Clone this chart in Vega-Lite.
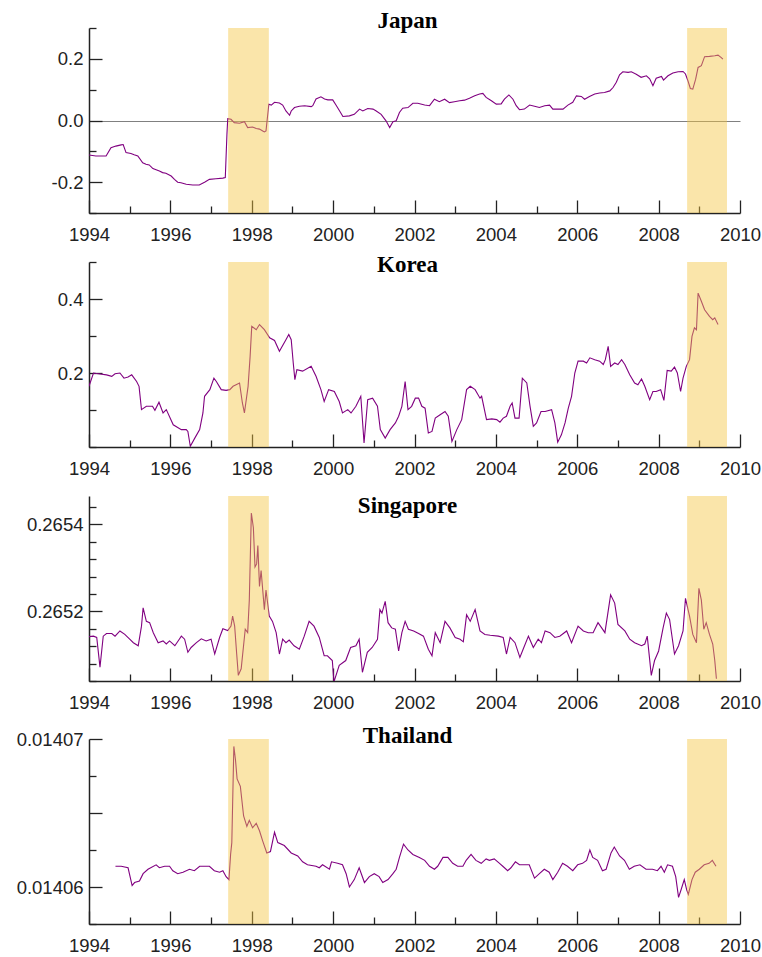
{
"$schema": "https://vega.github.io/schema/vega-lite/v6.json",
"padding": {"left": 16, "top": 10, "right": 5, "bottom": 0},
"autosize": {"type": "pad"},
"bounds": "flush",
"spacing": 0,
"config": {
  "view": {"stroke": null},
  "axis": {"domainColor": "#222", "domainWidth": 1.5, "tickColor": "#222", "tickWidth": 1.3, "labelFont": "Liberation Sans", "labelFontSize": 18.5, "labelColor": "#222", "grid": false, "labelFlush": false, "zindex": 1, "labelOverlap": false},
  "title": {"font": "Liberation Serif", "fontSize": 23, "fontWeight": "bold", "color": "#000", "frame": "group", "baseline": "alphabetic", "anchor": "middle", "dx": -7}
},
"datasets": {
  "bands": [{"s": 1997.42, "e": 1998.42}, {"s": 2008.7, "e": 2009.68}],
  "jp": [
{"t":1994.00,"v":-0.112},{"t":1994.17,"v":-0.115},{"t":1994.42,"v":-0.115},{"t":1994.54,"v":-0.088},{"t":1994.66,"v":-0.083},{"t":1994.79,"v":-0.079},{"t":1994.84,"v":-0.078},{"t":1994.91,"v":-0.104},{"t":1995.03,"v":-0.107},{"t":1995.11,"v":-0.111},{"t":1995.20,"v":-0.115},{"t":1995.32,"v":-0.137},{"t":1995.40,"v":-0.142},{"t":1995.48,"v":-0.144},{"t":1995.57,"v":-0.156},{"t":1995.65,"v":-0.160},{"t":1995.73,"v":-0.164},{"t":1995.81,"v":-0.169},{"t":1995.89,"v":-0.171},{"t":1996.02,"v":-0.180},{"t":1996.10,"v":-0.191},{"t":1996.18,"v":-0.200},{"t":1996.26,"v":-0.202},{"t":1996.39,"v":-0.207},{"t":1996.55,"v":-0.209},{"t":1996.71,"v":-0.209},{"t":1996.84,"v":-0.200},{"t":1996.96,"v":-0.191},{"t":1997.12,"v":-0.189},{"t":1997.29,"v":-0.187},{"t":1997.35,"v":-0.185},{"t":1997.39,"v":-0.045},{"t":1997.41,"v":0.006},{"t":1997.49,"v":0.004},{"t":1997.57,"v":-0.007},{"t":1997.70,"v":-0.009},{"t":1997.82,"v":-0.004},{"t":1997.90,"v":-0.023},{"t":1998.02,"v":-0.021},{"t":1998.11,"v":-0.026},{"t":1998.19,"v":-0.028},{"t":1998.27,"v":-0.034},{"t":1998.31,"v":-0.037},{"t":1998.35,"v":-0.034},{"t":1998.42,"v":0.053},{"t":1998.48,"v":0.050},{"t":1998.56,"v":0.059},{"t":1998.68,"v":0.057},{"t":1998.76,"v":0.050},{"t":1998.84,"v":0.031},{"t":1998.93,"v":0.017},{"t":1998.97,"v":0.031},{"t":1999.05,"v":0.042},{"t":1999.17,"v":0.046},{"t":1999.30,"v":0.048},{"t":1999.46,"v":0.045},{"t":1999.50,"v":0.048},{"t":1999.58,"v":0.070},{"t":1999.70,"v":0.077},{"t":1999.79,"v":0.070},{"t":1999.87,"v":0.067},{"t":1999.99,"v":0.067},{"t":2000.07,"v":0.050},{"t":2000.16,"v":0.031},{"t":2000.24,"v":0.013},{"t":2000.40,"v":0.015},{"t":2000.52,"v":0.020},{"t":2000.65,"v":0.037},{"t":2000.73,"v":0.031},{"t":2000.85,"v":0.039},{"t":2000.98,"v":0.037},{"t":2001.06,"v":0.031},{"t":2001.18,"v":0.020},{"t":2001.30,"v":-0.001},{"t":2001.39,"v":-0.023},{"t":2001.47,"v":-0.004},{"t":2001.55,"v":-0.001},{"t":2001.63,"v":0.026},{"t":2001.71,"v":0.040},{"t":2001.84,"v":0.042},{"t":2001.96,"v":0.056},{"t":2002.08,"v":0.056},{"t":2002.25,"v":0.050},{"t":2002.37,"v":0.048},{"t":2002.49,"v":0.069},{"t":2002.61,"v":0.061},{"t":2002.74,"v":0.069},{"t":2002.86,"v":0.058},{"t":2002.98,"v":0.061},{"t":2003.11,"v":0.064},{"t":2003.23,"v":0.066},{"t":2003.35,"v":0.072},{"t":2003.48,"v":0.080},{"t":2003.60,"v":0.086},{"t":2003.68,"v":0.088},{"t":2003.76,"v":0.075},{"t":2003.89,"v":0.064},{"t":2004.01,"v":0.053},{"t":2004.13,"v":0.054},{"t":2004.21,"v":0.069},{"t":2004.32,"v":0.083},{"t":2004.42,"v":0.069},{"t":2004.50,"v":0.048},{"t":2004.58,"v":0.035},{"t":2004.70,"v":0.037},{"t":2004.83,"v":0.050},{"t":2004.95,"v":0.046},{"t":2005.07,"v":0.042},{"t":2005.20,"v":0.048},{"t":2005.32,"v":0.050},{"t":2005.40,"v":0.037},{"t":2005.52,"v":0.037},{"t":2005.65,"v":0.037},{"t":2005.77,"v":0.050},{"t":2005.89,"v":0.059},{"t":2005.98,"v":0.080},{"t":2006.10,"v":0.078},{"t":2006.18,"v":0.069},{"t":2006.30,"v":0.078},{"t":2006.43,"v":0.086},{"t":2006.55,"v":0.089},{"t":2006.67,"v":0.091},{"t":2006.80,"v":0.096},{"t":2006.88,"v":0.107},{"t":2006.96,"v":0.124},{"t":2007.04,"v":0.148},{"t":2007.12,"v":0.158},{"t":2007.25,"v":0.156},{"t":2007.33,"v":0.158},{"t":2007.45,"v":0.150},{"t":2007.57,"v":0.140},{"t":2007.70,"v":0.145},{"t":2007.78,"v":0.135},{"t":2007.86,"v":0.113},{"t":2007.94,"v":0.137},{"t":2008.07,"v":0.143},{"t":2008.12,"v":0.131},{"t":2008.23,"v":0.145},{"t":2008.35,"v":0.154},{"t":2008.48,"v":0.158},{"t":2008.60,"v":0.159},{"t":2008.66,"v":0.151},{"t":2008.72,"v":0.129},{"t":2008.78,"v":0.104},{"t":2008.84,"v":0.102},{"t":2008.91,"v":0.134},{"t":2008.97,"v":0.172},{"t":2009.05,"v":0.178},{"t":2009.13,"v":0.207},{"t":2009.25,"v":0.208},{"t":2009.38,"v":0.210},{"t":2009.46,"v":0.212},{"t":2009.54,"v":0.204},{"t":2009.58,"v":0.199}
  ],
  "kr": [
{"t":1994.00,"v":0.164},{"t":1994.11,"v":0.200},{"t":1994.23,"v":0.198},{"t":1994.43,"v":0.195},{"t":1994.56,"v":0.191},{"t":1994.64,"v":0.198},{"t":1994.76,"v":0.200},{"t":1994.86,"v":0.186},{"t":1994.96,"v":0.189},{"t":1995.05,"v":0.195},{"t":1995.17,"v":0.177},{"t":1995.23,"v":0.164},{"t":1995.29,"v":0.101},{"t":1995.41,"v":0.110},{"t":1995.56,"v":0.110},{"t":1995.62,"v":0.099},{"t":1995.72,"v":0.121},{"t":1995.82,"v":0.092},{"t":1995.90,"v":0.101},{"t":1996.07,"v":0.060},{"t":1996.27,"v":0.047},{"t":1996.39,"v":0.047},{"t":1996.43,"v":0.042},{"t":1996.49,"v":0.002},{"t":1996.60,"v":0.024},{"t":1996.72,"v":0.047},{"t":1996.80,"v":0.092},{"t":1996.84,"v":0.137},{"t":1996.97,"v":0.155},{"t":1997.07,"v":0.186},{"t":1997.13,"v":0.177},{"t":1997.25,"v":0.155},{"t":1997.37,"v":0.153},{"t":1997.46,"v":0.155},{"t":1997.54,"v":0.164},{"t":1997.70,"v":0.173},{"t":1997.77,"v":0.119},{"t":1997.82,"v":0.092},{"t":1997.91,"v":0.164},{"t":1997.96,"v":0.245},{"t":1998.00,"v":0.326},{"t":1998.11,"v":0.317},{"t":1998.19,"v":0.331},{"t":1998.31,"v":0.317},{"t":1998.44,"v":0.295},{"t":1998.56,"v":0.288},{"t":1998.68,"v":0.259},{"t":1998.84,"v":0.290},{"t":1998.91,"v":0.304},{"t":1998.97,"v":0.290},{"t":1999.02,"v":0.227},{"t":1999.06,"v":0.182},{"t":1999.11,"v":0.209},{"t":1999.25,"v":0.205},{"t":1999.46,"v":0.218},{"t":1999.58,"v":0.191},{"t":1999.70,"v":0.155},{"t":1999.78,"v":0.123},{"t":1999.89,"v":0.155},{"t":2000.03,"v":0.150},{"t":2000.15,"v":0.123},{"t":2000.23,"v":0.092},{"t":2000.36,"v":0.101},{"t":2000.44,"v":0.092},{"t":2000.56,"v":0.110},{"t":2000.68,"v":0.137},{"t":2000.76,"v":0.011},{"t":2000.85,"v":0.128},{"t":2000.97,"v":0.132},{"t":2001.09,"v":0.110},{"t":2001.16,"v":0.047},{"t":2001.28,"v":0.024},{"t":2001.40,"v":0.047},{"t":2001.53,"v":0.065},{"t":2001.61,"v":0.083},{"t":2001.69,"v":0.110},{"t":2001.77,"v":0.177},{"t":2001.84,"v":0.101},{"t":2001.93,"v":0.110},{"t":2002.02,"v":0.132},{"t":2002.10,"v":0.132},{"t":2002.18,"v":0.110},{"t":2002.26,"v":0.105},{"t":2002.34,"v":0.038},{"t":2002.43,"v":0.042},{"t":2002.51,"v":0.078},{"t":2002.63,"v":0.087},{"t":2002.75,"v":0.096},{"t":2002.83,"v":0.083},{"t":2002.92,"v":0.015},{"t":2003.04,"v":0.047},{"t":2003.16,"v":0.074},{"t":2003.28,"v":0.155},{"t":2003.37,"v":0.164},{"t":2003.49,"v":0.155},{"t":2003.61,"v":0.132},{"t":2003.65,"v":0.137},{"t":2003.77,"v":0.074},{"t":2003.90,"v":0.076},{"t":2004.02,"v":0.074},{"t":2004.10,"v":0.067},{"t":2004.18,"v":0.078},{"t":2004.26,"v":0.083},{"t":2004.35,"v":0.110},{"t":2004.40,"v":0.119},{"t":2004.47,"v":0.078},{"t":2004.57,"v":0.078},{"t":2004.65,"v":0.186},{"t":2004.76,"v":0.173},{"t":2004.84,"v":0.110},{"t":2004.92,"v":0.056},{"t":2005.00,"v":0.065},{"t":2005.11,"v":0.096},{"t":2005.21,"v":0.096},{"t":2005.37,"v":0.101},{"t":2005.45,"v":0.065},{"t":2005.52,"v":0.013},{"t":2005.61,"v":0.033},{"t":2005.70,"v":0.065},{"t":2005.78,"v":0.105},{"t":2005.86,"v":0.137},{"t":2005.94,"v":0.200},{"t":2006.02,"v":0.232},{"t":2006.15,"v":0.232},{"t":2006.23,"v":0.227},{"t":2006.31,"v":0.241},{"t":2006.43,"v":0.236},{"t":2006.55,"v":0.232},{"t":2006.64,"v":0.223},{"t":2006.69,"v":0.236},{"t":2006.76,"v":0.272},{"t":2006.82,"v":0.218},{"t":2006.92,"v":0.227},{"t":2007.00,"v":0.223},{"t":2007.09,"v":0.236},{"t":2007.17,"v":0.223},{"t":2007.29,"v":0.195},{"t":2007.41,"v":0.173},{"t":2007.49,"v":0.168},{"t":2007.58,"v":0.184},{"t":2007.66,"v":0.164},{"t":2007.78,"v":0.128},{"t":2007.86,"v":0.150},{"t":2007.94,"v":0.150},{"t":2008.05,"v":0.155},{"t":2008.13,"v":0.126},{"t":2008.21,"v":0.207},{"t":2008.31,"v":0.205},{"t":2008.39,"v":0.216},{"t":2008.46,"v":0.200},{"t":2008.54,"v":0.150},{"t":2008.60,"v":0.186},{"t":2008.68,"v":0.218},{"t":2008.76,"v":0.236},{"t":2008.82,"v":0.299},{"t":2008.88,"v":0.322},{"t":2008.93,"v":0.317},{"t":2008.97,"v":0.416},{"t":2009.05,"v":0.394},{"t":2009.13,"v":0.371},{"t":2009.25,"v":0.353},{"t":2009.33,"v":0.344},{"t":2009.38,"v":0.349},{"t":2009.46,"v":0.331}
  ],
  "sg": [
{"t":1994.00,"v":0.265142},{"t":1994.11,"v":0.265143},{"t":1994.19,"v":0.265140},{"t":1994.27,"v":0.265072},{"t":1994.35,"v":0.265143},{"t":1994.43,"v":0.265149},{"t":1994.56,"v":0.265149},{"t":1994.64,"v":0.265143},{"t":1994.76,"v":0.265155},{"t":1994.88,"v":0.265147},{"t":1995.00,"v":0.265136},{"t":1995.09,"v":0.265128},{"t":1995.21,"v":0.265121},{"t":1995.29,"v":0.265166},{"t":1995.33,"v":0.265208},{"t":1995.41,"v":0.265177},{"t":1995.49,"v":0.265174},{"t":1995.58,"v":0.265151},{"t":1995.70,"v":0.265128},{"t":1995.82,"v":0.265132},{"t":1995.90,"v":0.265125},{"t":1995.98,"v":0.265132},{"t":1996.11,"v":0.265121},{"t":1996.19,"v":0.265132},{"t":1996.27,"v":0.265143},{"t":1996.35,"v":0.265136},{"t":1996.43,"v":0.265106},{"t":1996.51,"v":0.265117},{"t":1996.64,"v":0.265128},{"t":1996.76,"v":0.265137},{"t":1996.88,"v":0.265132},{"t":1997.00,"v":0.265136},{"t":1997.09,"v":0.265102},{"t":1997.21,"v":0.265140},{"t":1997.29,"v":0.265160},{"t":1997.41,"v":0.265156},{"t":1997.49,"v":0.265166},{"t":1997.53,"v":0.265189},{"t":1997.58,"v":0.265166},{"t":1997.63,"v":0.265102},{"t":1997.67,"v":0.265053},{"t":1997.74,"v":0.265068},{"t":1997.84,"v":0.265159},{"t":1997.90,"v":0.265151},{"t":1997.94,"v":0.265226},{"t":1997.99,"v":0.265426},{"t":1998.04,"v":0.265392},{"t":1998.08,"v":0.265302},{"t":1998.12,"v":0.265309},{"t":1998.15,"v":0.265351},{"t":1998.19,"v":0.265257},{"t":1998.23,"v":0.265294},{"t":1998.31,"v":0.265204},{"t":1998.35,"v":0.265249},{"t":1998.43,"v":0.265189},{"t":1998.51,"v":0.265177},{"t":1998.60,"v":0.265151},{"t":1998.68,"v":0.265102},{"t":1998.76,"v":0.265136},{"t":1998.84,"v":0.265128},{"t":1998.92,"v":0.265134},{"t":1999.04,"v":0.265121},{"t":1999.17,"v":0.265113},{"t":1999.29,"v":0.265143},{"t":1999.41,"v":0.265177},{"t":1999.53,"v":0.265166},{"t":1999.66,"v":0.265140},{"t":1999.78,"v":0.265098},{"t":1999.86,"v":0.265098},{"t":1999.98,"v":0.265087},{"t":2000.02,"v":0.265038},{"t":2000.15,"v":0.265076},{"t":2000.31,"v":0.265087},{"t":2000.43,"v":0.265117},{"t":2000.56,"v":0.265121},{"t":2000.64,"v":0.265136},{"t":2000.72,"v":0.265060},{"t":2000.84,"v":0.265106},{"t":2000.96,"v":0.265117},{"t":2001.09,"v":0.265136},{"t":2001.15,"v":0.265204},{"t":2001.20,"v":0.265196},{"t":2001.28,"v":0.265223},{"t":2001.35,"v":0.265174},{"t":2001.44,"v":0.265162},{"t":2001.53,"v":0.265159},{"t":2001.61,"v":0.265109},{"t":2001.69,"v":0.265151},{"t":2001.77,"v":0.265177},{"t":2001.85,"v":0.265159},{"t":2001.98,"v":0.265155},{"t":2002.10,"v":0.265149},{"t":2002.22,"v":0.265143},{"t":2002.34,"v":0.265113},{"t":2002.43,"v":0.265098},{"t":2002.51,"v":0.265151},{"t":2002.63,"v":0.265128},{"t":2002.75,"v":0.265177},{"t":2002.87,"v":0.265162},{"t":2003.00,"v":0.265140},{"t":2003.12,"v":0.265136},{"t":2003.20,"v":0.265130},{"t":2003.28,"v":0.265192},{"t":2003.37,"v":0.265177},{"t":2003.49,"v":0.265204},{"t":2003.61,"v":0.265155},{"t":2003.73,"v":0.265147},{"t":2003.86,"v":0.265145},{"t":2004.06,"v":0.265143},{"t":2004.18,"v":0.265140},{"t":2004.26,"v":0.265102},{"t":2004.35,"v":0.265140},{"t":2004.47,"v":0.265128},{"t":2004.59,"v":0.265094},{"t":2004.67,"v":0.265113},{"t":2004.80,"v":0.265143},{"t":2004.92,"v":0.265117},{"t":2005.04,"v":0.265136},{"t":2005.12,"v":0.265128},{"t":2005.21,"v":0.265155},{"t":2005.33,"v":0.265151},{"t":2005.45,"v":0.265140},{"t":2005.57,"v":0.265143},{"t":2005.74,"v":0.265155},{"t":2005.86,"v":0.265128},{"t":2006.02,"v":0.265166},{"t":2006.15,"v":0.265155},{"t":2006.27,"v":0.265151},{"t":2006.39,"v":0.265151},{"t":2006.51,"v":0.265174},{"t":2006.60,"v":0.265162},{"t":2006.68,"v":0.265151},{"t":2006.82,"v":0.265238},{"t":2006.92,"v":0.265219},{"t":2007.00,"v":0.265170},{"t":2007.17,"v":0.265155},{"t":2007.29,"v":0.265136},{"t":2007.41,"v":0.265128},{"t":2007.58,"v":0.265121},{"t":2007.66,"v":0.265125},{"t":2007.72,"v":0.265143},{"t":2007.82,"v":0.265053},{"t":2007.90,"v":0.265087},{"t":2008.00,"v":0.265109},{"t":2008.11,"v":0.265162},{"t":2008.19,"v":0.265196},{"t":2008.27,"v":0.265181},{"t":2008.39,"v":0.265102},{"t":2008.49,"v":0.265121},{"t":2008.60,"v":0.265155},{"t":2008.66,"v":0.265230},{"t":2008.76,"v":0.265189},{"t":2008.84,"v":0.265147},{"t":2008.93,"v":0.265128},{"t":2008.99,"v":0.265253},{"t":2009.05,"v":0.265226},{"t":2009.11,"v":0.265159},{"t":2009.17,"v":0.265174},{"t":2009.25,"v":0.265147},{"t":2009.33,"v":0.265125},{"t":2009.38,"v":0.265087},{"t":2009.42,"v":0.265045}
  ],
  "th": [
{"t":1994.65,"v":0.0140614},{"t":1994.79,"v":0.0140614},{"t":1994.96,"v":0.0140613},{"t":1995.06,"v":0.0140601},{"t":1995.12,"v":0.0140603},{"t":1995.24,"v":0.0140604},{"t":1995.33,"v":0.0140609},{"t":1995.45,"v":0.0140612},{"t":1995.65,"v":0.0140615},{"t":1995.73,"v":0.0140613},{"t":1995.86,"v":0.0140614},{"t":1995.98,"v":0.0140614},{"t":1996.06,"v":0.0140611},{"t":1996.18,"v":0.0140609},{"t":1996.31,"v":0.0140610},{"t":1996.47,"v":0.0140612},{"t":1996.59,"v":0.0140611},{"t":1996.72,"v":0.0140614},{"t":1996.84,"v":0.0140614},{"t":1996.96,"v":0.0140614},{"t":1997.08,"v":0.0140611},{"t":1997.21,"v":0.0140610},{"t":1997.29,"v":0.0140611},{"t":1997.37,"v":0.0140607},{"t":1997.44,"v":0.0140605},{"t":1997.48,"v":0.0140622},{"t":1997.51,"v":0.0140630},{"t":1997.56,"v":0.0140695},{"t":1997.60,"v":0.0140686},{"t":1997.64,"v":0.0140673},{"t":1997.72,"v":0.0140668},{"t":1997.80,"v":0.0140648},{"t":1997.88,"v":0.0140641},{"t":1997.94,"v":0.0140645},{"t":1998.02,"v":0.0140640},{"t":1998.11,"v":0.0140643},{"t":1998.19,"v":0.0140638},{"t":1998.27,"v":0.0140631},{"t":1998.37,"v":0.0140623},{"t":1998.46,"v":0.0140624},{"t":1998.56,"v":0.0140637},{"t":1998.64,"v":0.0140630},{"t":1998.80,"v":0.0140628},{"t":1998.97,"v":0.0140623},{"t":1999.13,"v":0.0140621},{"t":1999.25,"v":0.0140617},{"t":1999.37,"v":0.0140615},{"t":1999.58,"v":0.0140614},{"t":1999.66,"v":0.0140613},{"t":1999.74,"v":0.0140615},{"t":1999.91,"v":0.0140612},{"t":1999.96,"v":0.0140617},{"t":2000.11,"v":0.0140616},{"t":2000.23,"v":0.0140615},{"t":2000.32,"v":0.0140609},{"t":2000.40,"v":0.0140600},{"t":2000.52,"v":0.0140605},{"t":2000.64,"v":0.0140613},{"t":2000.77,"v":0.0140603},{"t":2000.89,"v":0.0140607},{"t":2001.01,"v":0.0140609},{"t":2001.13,"v":0.0140607},{"t":2001.22,"v":0.0140603},{"t":2001.35,"v":0.0140605},{"t":2001.47,"v":0.0140609},{"t":2001.55,"v":0.0140612},{"t":2001.63,"v":0.0140620},{"t":2001.73,"v":0.0140629},{"t":2001.84,"v":0.0140625},{"t":2001.96,"v":0.0140622},{"t":2002.12,"v":0.0140620},{"t":2002.25,"v":0.0140618},{"t":2002.37,"v":0.0140614},{"t":2002.49,"v":0.0140612},{"t":2002.57,"v":0.0140614},{"t":2002.70,"v":0.0140620},{"t":2002.82,"v":0.0140620},{"t":2002.94,"v":0.0140616},{"t":2003.06,"v":0.0140614},{"t":2003.19,"v":0.0140614},{"t":2003.27,"v":0.0140618},{"t":2003.39,"v":0.0140622},{"t":2003.51,"v":0.0140618},{"t":2003.64,"v":0.0140616},{"t":2003.76,"v":0.0140619},{"t":2003.84,"v":0.0140618},{"t":2003.96,"v":0.0140619},{"t":2004.09,"v":0.0140616},{"t":2004.17,"v":0.0140614},{"t":2004.29,"v":0.0140611},{"t":2004.37,"v":0.0140613},{"t":2004.48,"v":0.0140617},{"t":2004.58,"v":0.0140615},{"t":2004.70,"v":0.0140615},{"t":2004.82,"v":0.0140615},{"t":2004.95,"v":0.0140606},{"t":2005.07,"v":0.0140609},{"t":2005.19,"v":0.0140612},{"t":2005.31,"v":0.0140610},{"t":2005.40,"v":0.0140605},{"t":2005.52,"v":0.0140610},{"t":2005.64,"v":0.0140616},{"t":2005.76,"v":0.0140614},{"t":2005.89,"v":0.0140611},{"t":2006.01,"v":0.0140615},{"t":2006.13,"v":0.0140616},{"t":2006.23,"v":0.0140618},{"t":2006.31,"v":0.0140625},{"t":2006.38,"v":0.0140620},{"t":2006.50,"v":0.0140618},{"t":2006.62,"v":0.0140611},{"t":2006.71,"v":0.0140612},{"t":2006.83,"v":0.0140623},{"t":2006.91,"v":0.0140627},{"t":2007.04,"v":0.0140621},{"t":2007.16,"v":0.0140618},{"t":2007.28,"v":0.0140612},{"t":2007.40,"v":0.0140614},{"t":2007.54,"v":0.0140615},{"t":2007.69,"v":0.0140612},{"t":2007.85,"v":0.0140612},{"t":2007.97,"v":0.0140611},{"t":2008.06,"v":0.0140614},{"t":2008.14,"v":0.0140610},{"t":2008.22,"v":0.0140615},{"t":2008.34,"v":0.0140614},{"t":2008.42,"v":0.0140607},{"t":2008.49,"v":0.0140593},{"t":2008.55,"v":0.0140598},{"t":2008.63,"v":0.0140605},{"t":2008.69,"v":0.0140598},{"t":2008.73,"v":0.0140595},{"t":2008.82,"v":0.0140605},{"t":2008.90,"v":0.0140610},{"t":2009.00,"v":0.0140612},{"t":2009.12,"v":0.0140615},{"t":2009.24,"v":0.0140616},{"t":2009.32,"v":0.0140618},{"t":2009.41,"v":0.0140614}
  ]
},
"vconcat": [
  {
    "width": 651, "height": 185,
    "title": {"text": "Japan", "offset": -14},
    "layer": [
      {"data": {"name": "jp"}, "mark": {"type": "line", "color": "#800080", "strokeWidth": 1.1, "clip": true},
       "encoding": {
         "x": {"field": "t", "type": "quantitative", "scale": {"domain": [1994, 2010], "nice": false, "zero": false},
               "axis": {"title": null, "values": [1994,1995,1996,1997,1998,1999,2000,2001,2002,2003,2004,2005,2006,2007,2008,2009,2010], "format": "d", "labelExpr": "datum.value % 2 == 0 ? datum.label : ''", "tickSize": {"condition": {"test": "datum.value % 2 == 0", "value": -13}, "value": -7}, "labelPadding": 25}},
         "y": {"field": "v", "type": "quantitative", "scale": {"domain": [-0.3, 0.3], "nice": false, "zero": false},
               "axis": {"title": null, "values": [-0.3,-0.2,-0.1,0,0.1,0.2,0.3], "labelExpr": "datum.value == 0.2 ? '0.2' : datum.value == 0 ? '0.0' : datum.value == -0.2 ? '-0.2' : ''", "tickSize": {"condition": {"test": "datum.value == 0.2 || datum.value == 0 || datum.value == -0.2", "value": -13}, "value": -7}, "labelPadding": 19, "grid": true, "gridColor": "#808080", "gridWidth": 1, "gridOpacity": {"condition": {"test": "datum.value == 0", "value": 1}, "value": 0}}}
       }},
      {"data": {"name": "bands"}, "mark": {"type": "rect", "color": "#F4C542", "opacity": 0.45},
       "encoding": {"x": {"field": "s", "type": "quantitative"}, "x2": {"field": "e"}}}
    ]
  },
  {"width": 651, "height": 49, "data": {"values": []}, "mark": {"type": "point", "opacity": 0}, "encoding": {}},
  {
    "width": 651, "height": 185,
    "title": {"text": "Korea", "offset": -24},
    "layer": [
      {"data": {"name": "kr"}, "mark": {"type": "line", "color": "#800080", "strokeWidth": 1.1, "clip": true},
       "encoding": {
         "x": {"field": "t", "type": "quantitative", "scale": {"domain": [1994, 2010], "nice": false, "zero": false},
               "axis": {"title": null, "values": [1994,1995,1996,1997,1998,1999,2000,2001,2002,2003,2004,2005,2006,2007,2008,2009,2010], "format": "d", "labelExpr": "datum.value % 2 == 0 ? datum.label : ''", "tickSize": {"condition": {"test": "datum.value % 2 == 0", "value": -13}, "value": -7}, "labelPadding": 25}},
         "y": {"field": "v", "type": "quantitative", "scale": {"domain": [0, 0.5], "nice": false, "zero": false},
               "axis": {"title": null, "values": [0,0.1,0.2,0.3,0.4,0.5], "labelExpr": "datum.value == 0.2 ? '0.2' : datum.value == 0.4 ? '0.4' : ''", "tickSize": {"condition": {"test": "datum.value == 0.2 || datum.value == 0.4", "value": -13}, "value": -7}, "labelPadding": 19}}
       }},
      {"data": {"name": "bands"}, "mark": {"type": "rect", "color": "#F4C542", "opacity": 0.45},
       "encoding": {"x": {"field": "s", "type": "quantitative"}, "x2": {"field": "e"}}}
    ]
  },
  {"width": 651, "height": 49, "data": {"values": []}, "mark": {"type": "point", "opacity": 0}, "encoding": {}},
  {
    "width": 651, "height": 185,
    "title": {"text": "Singapore", "offset": -21.5},
    "layer": [
      {"data": {"name": "sg"}, "mark": {"type": "line", "color": "#800080", "strokeWidth": 1.1, "clip": true},
       "encoding": {
         "x": {"field": "t", "type": "quantitative", "scale": {"domain": [1994, 2010], "nice": false, "zero": false},
               "axis": {"title": null, "values": [1994,1995,1996,1997,1998,1999,2000,2001,2002,2003,2004,2005,2006,2007,2008,2009,2010], "format": "d", "labelExpr": "datum.value % 2 == 0 ? datum.label : ''", "tickSize": {"condition": {"test": "datum.value % 2 == 0", "value": -13}, "value": -7}, "labelPadding": 25}},
         "y": {"field": "v", "type": "quantitative", "scale": {"domain": [0.26504, 0.265465], "nice": false, "zero": false},
               "axis": {"title": null, "values": [0.26504,0.26508,0.26512,0.26516,0.2652,0.26524,0.26528,0.26532,0.26536,0.2654,0.26544], "labelExpr": "datum.value == 0.2652 ? '0.2652' : datum.value == 0.2654 ? '0.2654' : ''", "tickSize": {"condition": {"test": "datum.value == 0.2652 || datum.value == 0.2654", "value": -13}, "value": -7}, "labelPadding": 19}}
       }},
      {"data": {"name": "bands"}, "mark": {"type": "rect", "color": "#F4C542", "opacity": 0.45},
       "encoding": {"x": {"field": "s", "type": "quantitative"}, "x2": {"field": "e"}}}
    ]
  },
  {"width": 651, "height": 58, "data": {"values": []}, "mark": {"type": "point", "opacity": 0}, "encoding": {}},
  {
    "width": 651, "height": 185,
    "title": {"text": "Thailand", "offset": -18},
    "layer": [
      {"data": {"name": "th"}, "mark": {"type": "line", "color": "#800080", "strokeWidth": 1.1, "clip": true},
       "encoding": {
         "x": {"field": "t", "type": "quantitative", "scale": {"domain": [1994, 2010], "nice": false, "zero": false},
               "axis": {"title": null, "values": [1994,1995,1996,1997,1998,1999,2000,2001,2002,2003,2004,2005,2006,2007,2008,2009,2010], "format": "d", "labelExpr": "datum.value % 2 == 0 ? datum.label : ''", "tickSize": {"condition": {"test": "datum.value % 2 == 0", "value": -13}, "value": -7}, "labelPadding": 25}},
         "y": {"field": "v", "type": "quantitative", "scale": {"domain": [0.0140575, 0.01407], "nice": false, "zero": false},
               "axis": {"title": null, "values": [0.0140575,0.01406,0.0140625,0.014065,0.0140675,0.01407], "labelExpr": "datum.value == 0.01406 ? '0.01406' : datum.value == 0.01407 ? '0.01407' : ''", "tickSize": {"condition": {"test": "datum.value == 0.01406 || datum.value == 0.01407 || datum.value == 0.014065", "value": -13}, "value": -7}, "labelPadding": 19}}
       }},
      {"data": {"name": "bands"}, "mark": {"type": "rect", "color": "#F4C542", "opacity": 0.45},
       "encoding": {"x": {"field": "s", "type": "quantitative"}, "x2": {"field": "e"}}}
    ]
  }
]
}
